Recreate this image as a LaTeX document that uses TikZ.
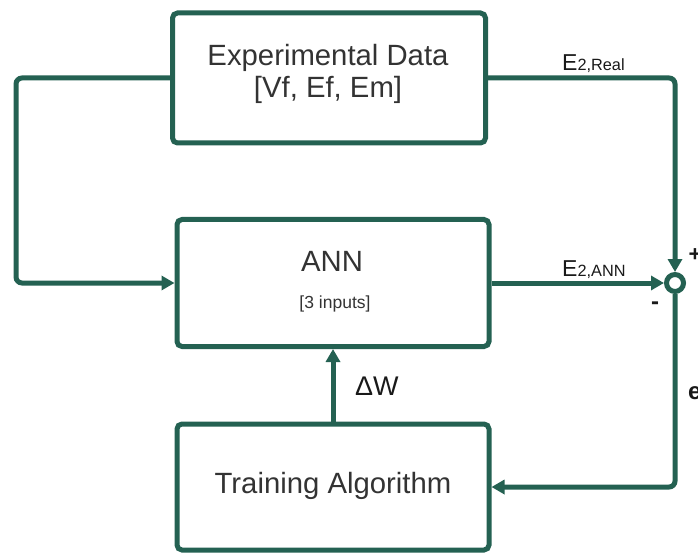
\documentclass[tikz,border=0pt]{standalone}
\usepackage{fontspec}
\setmainfont{Liberation Sans}
\usetikzlibrary{arrows.meta,calc}
\definecolor{lc}{HTML}{246152}
\definecolor{tc}{HTML}{333333}
\begin{document}
\begin{tikzpicture}[x=1pt,y=-1pt,
  box/.style={draw=lc,line width=5pt,rounded corners=5pt,minimum width=#1,inner sep=0pt},
  conn/.style={draw=lc,line width=5pt,rounded corners=6pt},
  tip/.style={-{Triangle[length=13pt,width=14pt]}},
  big/.style={font=\fontsize{29.3}{33}\selectfont,text=tc,inner sep=0pt,anchor=base},
  lab/.style={text=black!90,inner sep=0pt,anchor=base west}]
\useasboundingbox (0,0) rectangle (698,553);
\clip (0,0) rectangle (698,553);
% boxes
\node[box=313pt,minimum height=130pt] (data) at (329,78) {};
\node[box=312pt,minimum height=127pt] (ann) at (333,283) {};
\node[box=312pt,minimum height=126pt] (train) at (333,487) {};
\node[circle,draw=lc,line width=5pt,minimum size=17pt,inner sep=0pt,fill=white] (sum) at (675,283) {};
% texts
\node[big] (t1) at (328,66) {Experimental Data};
\node[big] (t2) at (328,98) {[Vf, Ef, Em]};
\node[big] (t3) at (332,271) {ANN};
\node[font=\fontsize{17.5}{20}\selectfont,text=tc,inner sep=0pt,anchor=base] (t4) at (335,308) {[3 inputs]};
\node[big] (t5) at (333,493) {Training Algorithm};
% connectors
\coordinate (lx) at (16,0);
\draw[conn,tip] (data.west) -- (data.west -| lx) -- (ann.west -| lx) -- (ann.west);
\draw[conn,tip] (data.east) -- (data.east -| sum) -- (sum.north);
\draw[conn,tip] (ann.east) -- (sum.west);
\draw[conn,tip] (sum.south) -- (sum.south |- train.east) -- (train.east);
\draw[conn,tip] (train.north) -- (ann.south);
% labels
\node[lab] (er) at (562,71) {{\fontsize{23}{25}\selectfont E}{\fontsize{16.3}{18}\selectfont 2,Real}};
\node[lab] (ea) at (562,276) {{\fontsize{23}{25}\selectfont E}{\fontsize{16.3}{18}\selectfont 2,ANN}};
\node[lab,font=\fontsize{27}{30}\selectfont] (dw) at (355,395) {ΔW};
\node[font=\fontsize{22}{24}\selectfont\bfseries,text=black!90,inner sep=0pt] (plus) at (695,255) {+};
\node[font=\fontsize{24}{26}\selectfont\bfseries,text=black!90,inner sep=0pt] (minus) at (655,306) {-};
\node[font=\fontsize{24}{26}\selectfont\bfseries,text=black!90,inner sep=0pt,anchor=west] (e) at (688,393) {e};
\end{tikzpicture}
\end{document}
